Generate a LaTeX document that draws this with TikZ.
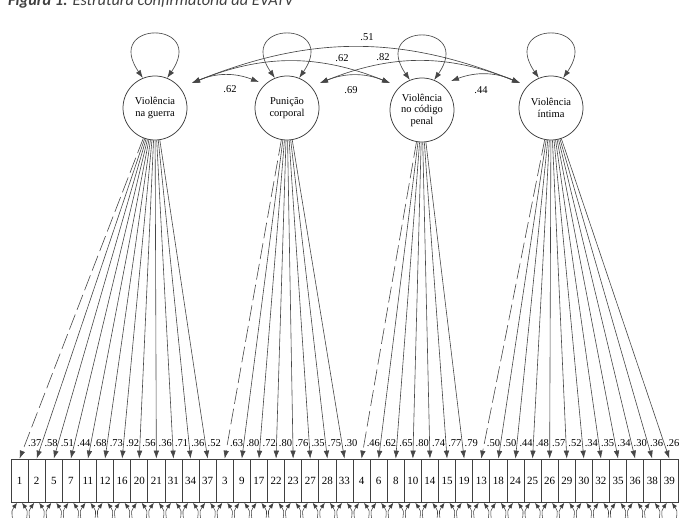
\documentclass[tikz,border=0pt]{standalone}
\usepackage{fontspec}
\setmainfont{Liberation Serif}
\newfontfamily\titlefont{Carlito}
\usetikzlibrary{arrows.meta,calc}
\begin{document}
\begin{tikzpicture}[x=1pt,y=-1pt,
  lat/.style={circle, draw=black!75, line width=0.75pt, minimum size=64pt, inner sep=0pt,
              font=\fontsize{10.5}{11.5}\selectfont, align=center},
  obs/.style={rectangle, draw=black!75, line width=0.75pt, minimum width=17.1pt,
              minimum height=43pt, inner sep=0pt, font=\fontsize{11}{12}\selectfont},
  load/.style={draw=black!72, line width=0.6pt, -{Latex[length=8pt,width=5.5pt]}},
  fixedload/.style={load, dash pattern=on 16pt off 5pt},
  corr/.style={draw=black!72, line width=0.65pt, {Latex[length=8pt,width=5.5pt]}-{Latex[length=8pt,width=5.5pt]}},
  err/.style={draw=black!75, line width=0.55pt, -{Latex[length=5.5pt,width=4.5pt]}},
  num/.style={font=\fontsize{10.5}{11}\selectfont, inner sep=0pt}
]
\useasboundingbox (0,0) rectangle (690,518);
\clip (0,0) rectangle (690,518);

% title (top cut off as in the reference)
\node[anchor=base west, font=\titlefont\fontsize{16.3}{19}\selectfont\itshape, text=black!75, inner sep=0pt]
  (title) at (8,5.5) {\textbf{Figura 1:} Estrutura confirmatória da EVATV};

% latent factors
\node[lat] (f1) at (155,108) {Violência\\na guerra};
\node[lat] (f2) at (287,108) {Punição\\corporal};
\node[lat] (f3) at (422,110) {Violência\\no código\\penal};
\node[lat] (f4) at (551,108) {Violência\\íntima};

% variance loops
\foreach \f in {1,2,3,4}{
  \draw[corr] (f\f.112) .. controls +(-40,-58) and +(40,-58) .. (f\f.68);
}

% correlation attachment points
\coordinate (f1R) at ($(f1.center)+(37,-25)$);
\coordinate (f2L) at ($(f2.center)+(-28,-26)$);
\coordinate (f2R) at ($(f2.center)+(33,-25)$);
\coordinate (f3L) at ($(f3.center)+(-32,-27)$);
\coordinate (f3R) at ($(f3.center)+(29,-29)$);
\coordinate (f4L) at ($(f4.center)+(-31,-25)$);

\draw[corr] (f1R) to[bend left=22] (f2L);
\draw[corr] (f1R) to[bend left=22] (f3L);
\draw[corr] (f1R) to[bend left=22] (f4L);
\draw[corr] (f2R) to[bend left=22] (f3L);
\draw[corr] (f2R) to[bend left=22] (f4L);
\draw[corr] (f3R) to[bend left=22] (f4L);

\node[num] (c12) at (230,89) {.62};
\node[num] (c13) at (342,58) {.62};
\node[num] (c14) at (367,37) {.51};
\node[num] (c23) at (351,90) {.69};
\node[num] (c24) at (383,57) {.82};
\node[num] (c34) at (481,90) {.44};

% observed items
\foreach \lab [count=\i] in {1,2,5,7,11,12,16,20,21,31,34,37,3,9,17,22,23,27,28,33,4,6,8,10,14,15,19,13,18,24,25,26,29,30,32,35,36,38,39}{
  \node[obs] (b\i) at ({11+17.1*(\i-0.5)},480.5) {\lab};
}

% loadings
\foreach \v [count=\i] in {.37,.58,.51,.44,.68,.73,.92,.56,.36,.71,.36,.52,
                          .63,.80,.72,.80,.76,.35,.75,.30,
                          .46,.62,.65,.80,.74,.77,.79,
                          .50,.50,.44,.48,.57,.52,.34,.35,.34,.30,.36,.26}{
  \pgfmathtruncatemacro\f{\i<13 ? 1 : (\i<21 ? 2 : (\i<28 ? 3 : 4))}
  \pgfmathtruncatemacro\first{((\i==1)||(\i==13)||(\i==21)||(\i==28)) ? 1 : 0}
  \pgfmathsetmacro\fx{{155,287,422,551}[\f-1]}
  \pgfmathsetmacro\bc{11+17.1*(\i-0.5)}
  \ifnum\first=1
    \draw[fixedload] (f\f) -- (b\i.north);
  \else
    \draw[load] (f\f) -- (b\i.north);
  \fi
  \node[num] (l\i) at ({\bc-(\bc-\fx)*0.046+9},443.5) {\v};
}

% error terms below the items (cut off at the bottom)
\foreach \i in {1,...,39}{
  \draw[err] ($(b\i.south)+(-7,17)$) .. controls ($(b\i.south)+(-8,8)$) .. ($(b\i.south)+(-2.5,0.5)$);
  \draw[err] ($(b\i.south)+(7,17)$) .. controls ($(b\i.south)+(8,8)$) .. ($(b\i.south)+(2.5,0.5)$);
}
\end{tikzpicture}
\end{document}
